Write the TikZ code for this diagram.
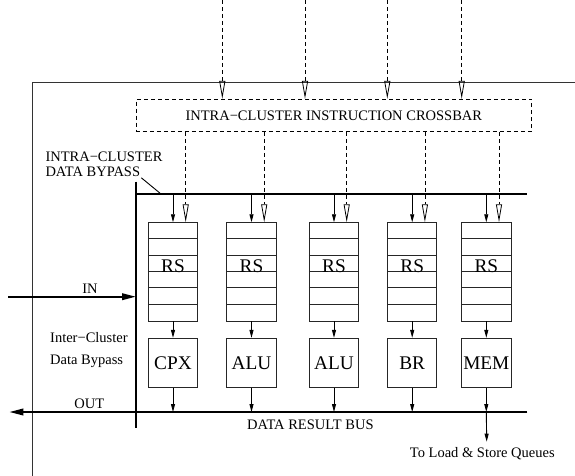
\documentclass[tikz,border=0pt]{standalone}
\usepackage{fontspec}
\setmainfont{Liberation Serif}
\usetikzlibrary{arrows.meta}
\begin{document}
\begin{tikzpicture}[x=1pt,y=-1pt,
  lbl/.style={font=\fontsize{14.5}{15}\selectfont, inner sep=0pt},
  big/.style={font=\fontsize{19.3}{20}\selectfont, inner sep=0pt},
  unitbox/.style={draw=black!85, line width=0.9pt, minimum width=49.4pt, minimum height=49pt, inner sep=0pt, big},
  rsbox/.style={draw=black!85, line width=0.9pt, minimum width=49.4pt, minimum height=98.3pt, inner sep=0pt},
  thinline/.style={line width=0.9pt},
  busline/.style={line width=2pt},
  ctrl/.style={dash pattern=on 4pt off 3pt, line width=0.8pt, -{Triangle[open,length=18pt,width=6pt]}},
  feed/.style={line width=0.9pt, -{Triangle[length=8pt,width=4pt]}},
  port/.style={line width=2pt, -{Triangle[length=14pt,width=6.5pt]}}
]
\useasboundingbox (0,0) rectangle (575,476);

% cluster outline
\draw[line width=1pt, black!80] (575,82.7) -- (32.7,82.7) -- (32.7,476);

% instruction crossbar
\node[draw, dash pattern=on 4pt off 3pt, line width=0.8pt, minimum width=395.7pt,
      minimum height=32.2pt, lbl] (xbar) at (333.8,115.4) {INTRA−CLUSTER INSTRUCTION CROSSBAR};

% incoming instruction paths
\foreach \i/\x in {1/222.3, 2/305, 3/387.3, 4/461.7} {
  \coordinate (top\i) at (\x,0);
  \draw[ctrl] (top\i) -- (top\i |- xbar.north);
}

% intra-cluster bypass bus and vertical spine
\coordinate (busL) at (136,194);
\coordinate (busR) at (527.3,194);
\coordinate (spineT) at (136,181.7);
\coordinate (spineB) at (136,428.3);
\draw[busline] (busL) -- (busR);
\draw[busline] (spineT) -- (spineB);

\node[lbl, anchor=west] (bypass1) at (45.3,156.7) {INTRA−CLUSTER};
\node[lbl, anchor=west] (bypass2) at (45.3,171.7) {DATA BYPASS};
\coordinate (tap) at (161,194);
\draw[thinline] ([xshift=1pt,yshift=-1pt]bypass2.south east) -- (tap);

% result bus with OUT port
\coordinate (rbR) at (527.3,412);
\coordinate (outEnd) at (9.3,412);
\draw[port] (rbR) -- (outEnd);

% IN port
\coordinate (inStart) at (8.3,296.7);
\draw[port] (inStart) -- (inStart -| spineT);

% reservation stations and functional units
\foreach \i/\cx/\fu in {1/173/CPX, 2/251.5/ALU, 3/334/ALU, 4/412.2/BR, 5/486.3/MEM} {
  \node[rsbox] (rs\i) at (\cx,271.85) {};
  \foreach \k in {1,...,5}
    \draw[thinline, black!85] ([yshift=-\k*16.38pt]rs\i.north west) -- ([yshift=-\k*16.38pt]rs\i.north east);
  \node[big] (rsl\i) at (\cx,266) {RS};
  \node[unitbox] (fu\i) at (\cx,362.8) {\fu};
  \coordinate (d\i) at (\cx+12.7,0);
  \draw[ctrl] (d\i |- xbar.south) -- (d\i |- rs\i.north);
  \draw[feed] (rs\i.north |- busL) -- (rs\i.north);
  \draw[feed] (rs\i.south) -- (fu\i.north);
  \draw[feed] (fu\i.south) -- (fu\i.south |- rbR);
}

% memory unit to load/store queues
\coordinate (lsq) at (486.7,441.7);
\draw[feed] (fu5.south |- rbR) -- (lsq);

% labels
\node[lbl] (inlbl) at (90,288.3) {IN};
\node[lbl] (outlbl) at (89.3,403.3) {OUT};
\node[lbl, anchor=west] (inter1) at (50,337.3) {Inter−Cluster};
\node[lbl, anchor=west] (inter2) at (50,361.7) {Data Bypass};
\node[lbl, anchor=west] (rblbl) at (247,424.3) {DATA RESULT BUS};
\node[lbl] (lsqlbl) at (482.3,453.3) {To Load \& Store Queues};
\end{tikzpicture}
\end{document}
